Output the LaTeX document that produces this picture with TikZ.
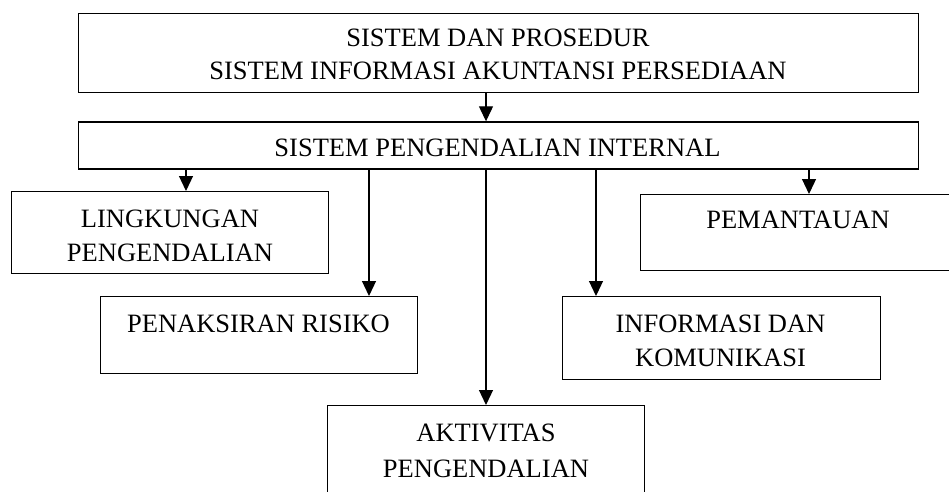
\documentclass[tikz,border=0pt]{standalone}
\usepackage{fontspec}
\setmainfont{Liberation Serif}
\usetikzlibrary{arrows.meta}
\begin{document}
\begin{tikzpicture}[x=1pt,y=-1pt,
  box/.style={draw, line width=1.3pt, inner sep=0pt, anchor=north west},
  lbl/.style={font=\fontsize{26.5}{34}\selectfont, align=center, anchor=base, inner sep=0pt},
  arr/.style={line width=1.2pt, -{Triangle[width=14pt,length=15pt]}}]
\clip (0,0) rectangle (949,491);
% boxes
\node[box, minimum width=840pt, minimum height=79.3pt] (top) at (78,12.7) {};
\node[box, minimum width=840pt, minimum height=47pt]   (spi) at (78,121.3) {};
\node[box, minimum width=317pt, minimum height=82pt]   (lk)  at (11,191) {};
\node[box, minimum width=317pt, minimum height=77pt]   (pr)  at (100,296) {};
\node[box, minimum width=317pt, minimum height=110pt]  (ak)  at (327,405) {};
\node[box, minimum width=318pt, minimum height=83pt]   (ik)  at (562,296) {};
\node[box, minimum width=320pt, minimum height=76pt]   (pm)  at (640,194) {};
% labels (multi-line labels are placed by the baseline of their last line)
\node[lbl, font=\fontsize{26.5}{33}\selectfont] (ttop) at (498,79) {SISTEM DAN PROSEDUR\\SISTEM INFORMASI AKUNTANSI PERSEDIAAN};
\node[lbl] (tspi) at (497.5,156) {SISTEM PENGENDALIAN INTERNAL};
\node[lbl] (tlk) at (170,261) {LINGKUNGAN\\PENGENDALIAN};
\node[lbl] (tpr) at (258.5,332) {PENAKSIRAN RISIKO};
\node[lbl, font=\fontsize{26.5}{36}\selectfont] (tak) at (486,477) {AKTIVITAS\\PENGENDALIAN};
\node[lbl] (tik) at (720.5,366) {INFORMASI DAN\\KOMUNIKASI};
\node[lbl] (tpm) at (798,228) {PEMANTAUAN};
% arrow columns
\coordinate (c0) at (486,0);
\coordinate (c1) at (186,0);
\coordinate (c2) at (369,0);
\coordinate (c3) at (486,0);
\coordinate (c4) at (596,0);
\coordinate (c5) at (809,0);
% connectors
\draw[arr] (top.south -| c0) -- (spi.north -| c0);
\draw[arr] (spi.south -| c1) -- (lk.north -| c1);
\draw[arr] (spi.south -| c2) -- (pr.north -| c2);
\draw[arr] (spi.south -| c3) -- (ak.north -| c3);
\draw[arr] (spi.south -| c4) -- (ik.north -| c4);
\draw[arr] (spi.south -| c5) -- (pm.north -| c5);
\end{tikzpicture}
\end{document}
